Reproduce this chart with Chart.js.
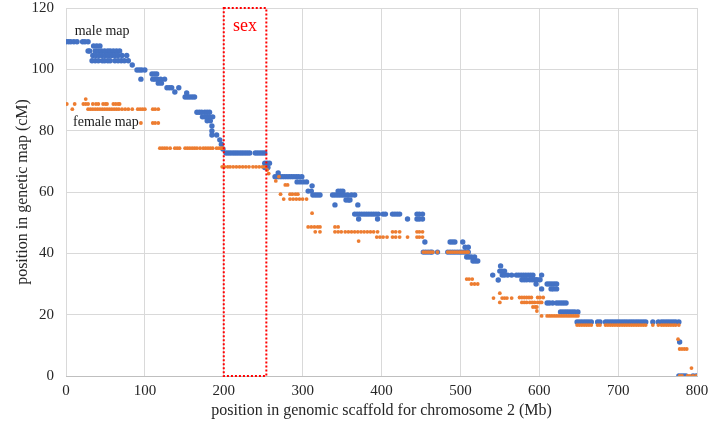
<!DOCTYPE html>
<html>
<head>
<meta charset="utf-8">
<script src="https://cdn.jsdelivr.net/npm/chart.js@4"></script>
<style>
    body { margin: 0; background: #ffffff; }
    #wrap { width: 710px; height: 430px; }
</style>
</head>
<body>
<div id="wrap"><canvas id="mapChart" width="710" height="430"></canvas></div>
<script>
// Axis ticks
const xTicks = [0, 100, 200, 300, 400, 500, 600, 700, 800];
const yTicks = [0, 20, 40, 60, 80, 100, 120];

// Sex-linked region on the scaffold (Mb)
const sexRegion = [200, 254];

// Male map: [position in scaffold (Mb), position in map (cM)]
const malePoints = [
    [0, 109], [3, 109], [6, 109], [10, 109], [14, 109], [21, 109], [24, 109], [28, 109],
    [35, 107.6], [39, 107.6], [43, 107.6],
    [28, 106], [30, 106], [37, 106], [41, 106], [45, 106], [49, 106], [53, 106], [56, 106], [60, 106], [64, 106], [68, 106],
    [34, 104.5], [38, 104.5], [42, 104.5], [46, 104.5], [50, 104.5], [54, 104.5], [58, 104.5], [62, 104.5], [66, 104.5], [71, 104.5], [77, 104.5],
    [33, 102.8], [37, 102.8], [41, 102.8], [46, 102.8], [49, 102.8], [53, 102.8], [56, 102.8], [62, 102.8], [66, 102.8], [70, 102.8], [74, 102.8], [79, 102.8],
    [84, 101.4],
    [90, 99.8], [93, 99.8], [96, 99.8], [100, 99.8], [95, 96.8],
    [109, 98.5], [112, 98.5], [115, 98.5],
    [110, 96.8], [113, 96.8], [116, 96.8], [120, 96.8], [125, 96.8],
    [117, 95.5], [121, 95.5],
    [128, 94], [131, 94], [134, 94], [143, 94], [138, 92.6],
    [151, 91], [154, 91], [157, 91], [160, 91], [163, 91], [153, 92.3],
    [166, 86], [169, 86], [172, 86], [176, 86], [179, 86], [182, 86],
    [173, 84.5], [176, 84.5], [179, 84.5], [182, 84.5], [186, 84.5],
    [179, 83.2], [183, 83.2],
    [185, 81.5], [185, 79.9], [185, 78.6], [191, 78.6], [195, 77], [197, 75.6], [199, 74],
    [203, 72.7], [206, 72.7], [209, 72.7], [212, 72.7], [215, 72.7], [218, 72.7], [221, 72.7], [224, 72.7], [227, 72.7], [230, 72.7], [233, 72.7],
    [240, 72.7], [243, 72.7], [246, 72.7], [249, 72.7], [252, 72.7],
    [252, 69.4], [255, 69.4], [258, 69.4], [252, 68], [256, 68],
    [269, 66.2],
    [265, 65], [268, 65], [271, 65], [274, 65], [277, 65], [280, 65], [283, 65], [286, 65], [289, 65], [292, 65], [295, 65], [299, 65],
    [293, 63.3], [297, 63.3], [301, 63.3], [305, 63.3],
    [312, 62], [307, 60.3], [311, 60.3],
    [313, 59], [316, 59], [319, 59], [322, 59],
    [341, 55.8],
    [338, 59], [341, 59], [344, 59], [347, 59], [350, 59], [353, 59], [357, 59], [362, 59], [366, 59],
    [345, 60.3], [348, 60.3], [351, 60.3],
    [355, 57.4], [358, 57.4], [360, 57.4],
    [370, 55.8],
    [366, 52.8], [369, 52.8], [372, 52.8], [375, 52.8], [378, 52.8], [381, 52.8], [384, 52.8], [387, 52.8], [390, 52.8], [393, 52.8], [396, 52.8],
    [402, 52.8], [405, 52.8], [414, 52.8], [417, 52.8], [420, 52.8], [423, 52.8],
    [371, 51.2], [395, 51.2], [433, 51.2],
    [445, 52.8], [448, 52.8], [452, 52.8], [445, 51.2], [448, 51.2], [452, 51.2],
    [455, 43.7],
    [453, 40.4], [456, 40.4], [459, 40.4], [462, 40.4], [464, 40.4], [471, 40.4], [484, 40.4], [487, 40.4], [490, 40.4], [493, 40.4],
    [496, 40.4], [499, 40.4], [502, 40.4], [505, 40.4], [508, 40.4], [510, 40.4],
    [487, 43.7], [490, 43.7], [493, 43.7], [503, 43.7],
    [506, 42], [510, 42],
    [508, 38.8], [511, 38.8], [514, 38.8], [518, 38.8],
    [516, 37.5], [519, 37.5], [522, 37.5],
    [541, 32.9], [548, 31.3], [551, 35.9], [550, 34.2], [553, 34.2], [556, 34.2], [553, 32.9], [556, 32.9], [560, 32.9], [565, 32.9],
    [571, 32.9], [574, 32.9], [577, 32.9], [580, 32.9], [583, 32.9], [586, 32.9], [589, 32.9], [592, 32.9],
    [578, 31.4], [581, 31.4], [584, 31.4], [588, 31.4], [591, 31.4], [594, 31.4], [597, 31.4], [601, 31.4],
    [596, 30], [603, 32.9], [603, 28.4],
    [610, 30], [613, 30], [616, 30], [619, 30], [622, 30],
    [615, 28.4], [618, 28.4], [622, 28.4],
    [610, 23.8], [613, 23.8], [617, 23.8], [622, 23.8], [625, 23.8], [628, 23.8], [631, 23.8], [634, 23.8],
    [627, 20.9], [630, 20.9], [633, 20.9], [636, 20.9], [639, 20.9], [642, 20.9], [645, 20.9], [649, 20.9],
    [648, 17.6], [651, 17.6], [654, 17.6], [657, 17.6], [660, 17.6], [663, 17.6], [666, 17.6], [674, 17.6], [677, 17.6],
    [684, 17.6], [687, 17.6], [690, 17.6], [693, 17.6], [696, 17.6], [699, 17.6], [702, 17.6], [705, 17.6], [708, 17.6],
    [711, 17.6], [714, 17.6], [717, 17.6], [720, 17.6], [723, 17.6], [726, 17.6], [729, 17.6], [732, 17.6], [735, 17.6],
    [744, 17.6], [751, 17.6], [755, 17.6], [758, 17.6], [761, 17.6], [764, 17.6], [767, 17.6], [770, 17.6], [773, 17.6], [777, 17.6],
    [778, 11.1],
    [777, 0], [780, 0], [783, 0], [786, 0], [795, 0], [799, 0]
];

// Female map: [position in scaffold (Mb), position in map (cM)]
const femalePoints = [
    [25, 90.3],
    [1, 88.7], [11, 88.7], [22, 88.7], [25, 88.7], [28, 88.7], [34, 88.7], [38, 88.7], [41, 88.7], [47, 88.7], [50, 88.7], [52, 88.7],
    [60, 88.7], [63, 88.7], [66, 88.7], [68, 88.7],
    [8, 87], [28, 87], [31, 87], [34, 87], [37, 87], [40, 87], [43, 87], [46, 87], [49, 87], [52, 87], [55, 87], [58, 87], [61, 87],
    [64, 87], [67, 87], [71, 87], [75, 87], [79, 87], [84, 87], [91, 87], [94, 87], [97, 87], [100, 87], [110, 87], [113, 87], [117, 87],
    [95, 82.5], [110, 82.5], [113, 82.5], [117, 82.5],
    [119, 74.3], [122, 74.3], [125, 74.3], [128, 74.3], [132, 74.3], [138, 74.3], [141, 74.3], [144, 74.3],
    [151, 74.3], [154, 74.3], [157, 74.3], [160, 74.3], [163, 74.3], [166, 74.3], [170, 74.3],
    [174, 74.3], [177, 74.3], [180, 74.3], [183, 74.3], [186, 74.3], [191, 74.3], [194, 74.3], [197, 74.3], [199, 74.3],
    [198, 68.2], [201, 68.2], [205, 68.2], [208, 68.2], [212, 68.2], [216, 68.2], [220, 68.2], [224, 68.2], [228, 68.2],
    [232, 68.2], [237, 68.2], [241, 68.2], [245, 68.2], [249, 68.2], [253, 68.2],
    [255, 67.2], [257, 66],
    [266, 63.6], [270, 65], [278, 62.3], [281, 62.3], [272, 59.3], [276, 57.7],
    [284, 59.3], [287, 59.3], [291, 59.3], [294, 59.3],
    [284, 57.7], [288, 57.7], [292, 57.7], [296, 57.7], [300, 57.7], [305, 57.7],
    [312, 53.1],
    [307, 48.6], [311, 48.6], [315, 48.6], [319, 48.6], [322, 48.6],
    [316, 47], [322, 47],
    [341, 48.6], [345, 48.6],
    [341, 47], [345, 47], [349, 47], [354, 47], [358, 47], [362, 47], [366, 47], [370, 47], [374, 47], [378, 47], [382, 47],
    [386, 47], [390, 47], [395, 47],
    [371, 44],
    [394, 45.3], [398, 45.3], [402, 45.3], [407, 45.3],
    [414, 47], [418, 47], [423, 47], [414, 45.3], [418, 45.3], [423, 45.3], [433, 45.3],
    [445, 47], [448, 47], [452, 47], [445, 45.3], [448, 45.3], [452, 45.3],
    [453, 40.4], [456, 40.4], [459, 40.4], [462, 40.4], [465, 40.4], [471, 40.4], [484, 40.4], [487, 40.4], [490, 40.4], [493, 40.4],
    [496, 40.4], [499, 40.4], [502, 40.4], [505, 40.4], [508, 40.4], [510, 40.4],
    [508, 31.6], [511, 31.6], [515, 31.6],
    [514, 30], [518, 30], [522, 30],
    [542, 25.4], [550, 27], [550, 24], [553, 25.4], [556, 25.4], [559, 25.4], [565, 25.4],
    [575, 25.6], [578, 25.6], [581, 25.6], [584, 25.6], [587, 25.6], [590, 25.6],
    [578, 24], [581, 24], [584, 24], [588, 24], [591, 24], [594, 24],
    [598, 25.6], [601, 25.6], [605, 25.6],
    [592, 22.5], [595, 22.5], [597, 22.5], [597, 21.2],
    [598, 24], [601, 24], [603, 24],
    [603, 19.6],
    [610, 19.6], [613, 19.6], [616, 19.6], [619, 19.6], [622, 19.6], [625, 19.6], [628, 19.6], [631, 19.6], [634, 19.6],
    [637, 19.6], [640, 19.6], [643, 19.6], [646, 19.6], [649, 19.6],
    [648, 16.6], [651, 16.6], [654, 16.6], [657, 16.6], [660, 16.6], [663, 16.6], [666, 16.6], [674, 16.6], [677, 16.6],
    [684, 16.6], [687, 16.6], [690, 16.6], [693, 16.6], [696, 16.6], [699, 16.6], [702, 16.6], [705, 16.6], [708, 16.6],
    [711, 16.6], [714, 16.6], [717, 16.6], [720, 16.6], [723, 16.6], [726, 16.6], [729, 16.6], [732, 16.6], [735, 16.6],
    [744, 16.6], [751, 16.6], [755, 16.6], [758, 16.6], [761, 16.6], [764, 16.6], [767, 16.6], [770, 16.6], [773, 16.6], [777, 16.6],
    [776, 12], [778, 8.8], [781, 8.8], [784, 8.8], [787, 8.8], [793, 2.6],
    [778, 0], [781, 0], [788, 0], [791, 0], [795, 0], [799, 0]
];

// Text labels placed in data coordinates
const seriesLabels = [
    { text: 'male map', x: 11, y: 112.3, color: '#1a1a1a', size: 14 },
    { text: 'female map', x: 9, y: 82.8, color: '#1a1a1a', size: 14 },
    { text: 'sex', x: 227, y: 114, color: '#ff0000', size: 18 }
];

const serif = '"Liberation Serif", "Times New Roman", serif';

// Draws the dotted sex box and the in-plot labels
const annotationPlugin = {
    id: 'annotations',
    afterDatasetsDraw(chart) {
        const ctx = chart.ctx;
        const xs = chart.scales.x;
        const ys = chart.scales.y;

        // Dotted rectangle around the sex region
        const left = xs.getPixelForValue(sexRegion[0]);
        const right = xs.getPixelForValue(sexRegion[1]);
        const top = ys.getPixelForValue(120);
        const bottom = ys.getPixelForValue(0);
        ctx.save();
        ctx.strokeStyle = '#ff0000';
        ctx.lineWidth = 2;
        ctx.setLineDash([2, 2]);
        ctx.strokeRect(left, top, right - left, bottom - top);
        ctx.restore();

        // Labels
        seriesLabels.forEach(label => {
            ctx.save();
            ctx.font = label.size + 'px ' + serif;
            ctx.fillStyle = label.color;
            ctx.textAlign = label.text === 'sex' ? 'center' : 'left';
            ctx.textBaseline = 'middle';
            ctx.fillText(label.text, xs.getPixelForValue(label.x), ys.getPixelForValue(label.y));
            ctx.restore();
        });
    }
};

function toXY(points) {
    return points.map(p => ({ x: p[0], y: p[1] }));
}

const ctx = document.getElementById('mapChart').getContext('2d');

window.mapChart = new Chart(ctx, {
    type: 'scatter',
    data: {
        datasets: [
            {
                label: 'male map',
                data: toXY(malePoints),
                backgroundColor: '#4472c4',
                borderWidth: 0,
                pointRadius: 2.7,
                order: 2
            },
            {
                label: 'female map',
                data: toXY(femalePoints),
                backgroundColor: '#ed7d31',
                borderWidth: 0,
                pointRadius: 1.9,
                order: 1
            }
        ]
    },
    options: {
        responsive: false,
        animation: false,
        layout: {
            padding: { top: 8, right: 13, left: 0, bottom: 0 }
        },
        plugins: {
            legend: { display: false },
            tooltip: { enabled: false }
        },
        scales: {
            x: {
                type: 'linear',
                min: 0,
                max: 800,
                afterBuildTicks: scale => {
                    scale.ticks = xTicks.map(v => ({ value: v }));
                },
                afterFit: scale => {
                    scale.height = 54;
                    // keep the plot edge fixed, labels may overhang
                    scale.paddingLeft = 0;
                    scale.paddingRight = 0;
                },
                ticks: {
                    color: '#262626',
                    padding: 6,
                    font: { family: serif, size: 15 }
                },
                grid: {
                    color: '#d9d9d9',
                    drawTicks: false
                },
                border: { color: '#bfbfbf' },
                title: {
                    display: true,
                    text: 'position in genomic scaffold for chromosome 2 (Mb)',
                    color: '#262626',
                    padding: { top: 0, bottom: 10 },
                    font: { family: serif, size: 16 }
                }
            },
            y: {
                type: 'linear',
                min: 0,
                max: 120,
                afterBuildTicks: scale => {
                    scale.ticks = yTicks.map(v => ({ value: v }));
                },
                afterFit: scale => {
                    scale.width = 66;
                    scale.paddingTop = 0;
                    scale.paddingBottom = 0;
                },
                ticks: {
                    color: '#262626',
                    padding: 12,
                    font: { family: serif, size: 15 }
                },
                grid: {
                    color: '#d9d9d9',
                    drawTicks: false
                },
                border: { display: false },
                title: {
                    display: true,
                    text: 'position in genetic map (cM)',
                    color: '#262626',
                    padding: { top: 13, bottom: 4 },
                    font: { family: serif, size: 16 }
                }
            }
        }
    },
    plugins: [annotationPlugin]
});
</script>
</body>
</html>
